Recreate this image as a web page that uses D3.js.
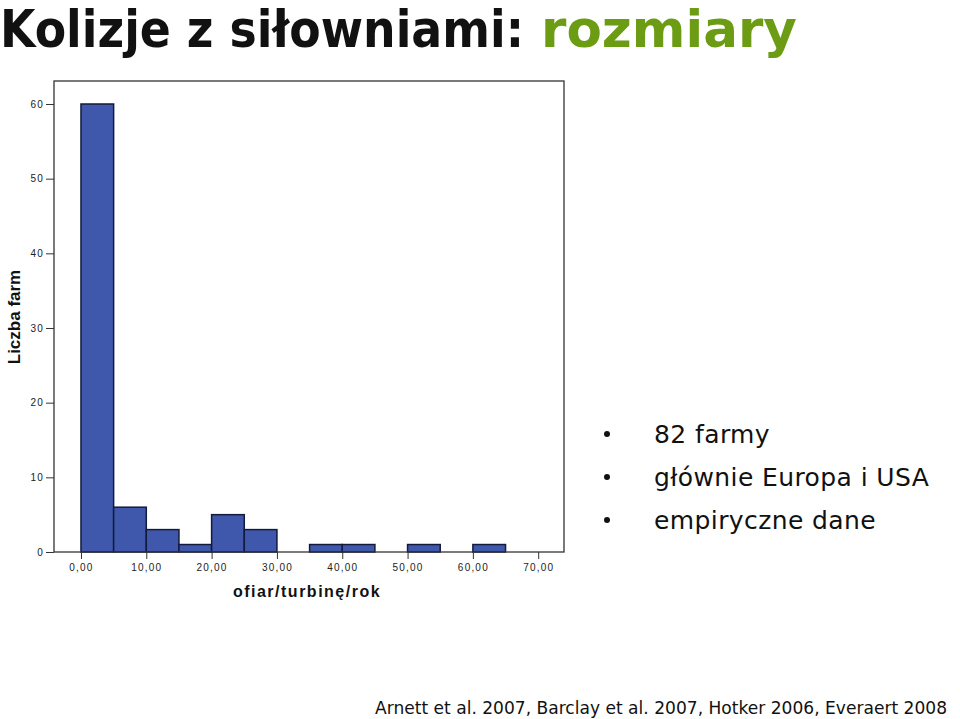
<!DOCTYPE html>
<html>
<head>
<meta charset="utf-8">
<script src="https://cdn.jsdelivr.net/npm/d3@7"></script>
<style>
  body { margin: 0; background: #fff; }
  svg { display: block; }
  .tick text { font-family: Arial, "Liberation Sans", sans-serif; font-size: 10px; letter-spacing: 1.2px; fill: #222; }
  .tick line { stroke: #333; }
</style>
</head>
<body>
<div id="chart"></div>
<script>
// histogram bins (ofiar/turbinę/rok), width 5
var binStarts = [0, 5, 10, 15, 20, 25, 30, 35, 40, 45, 50, 55, 60];
var binCounts = [60, 6, 3, 1, 5, 3, 0, 1, 1, 0, 1, 0, 1];
var binWidth = 5;
var xTicks = [0, 10, 20, 30, 40, 50, 60, 70];
var yTicks = [0, 10, 20, 30, 40, 50, 60];
var bullets = ["82 farmy", "głównie Europa i USA", "empiryczne dane"];

var svgWidth = 960;
var svgHeight = 719;

var svg = d3.select("#chart")
  .append("svg")
  .attr("width", svgWidth)
  .attr("height", svgHeight);

// plot frame
var frame = { left: 54, right: 564, top: 81, bottom: 552 };

var xScale = d3.scaleLinear()
  .domain([-4.13, 73.95])
  .range([frame.left, frame.right]);

var yScale = d3.scaleLinear()
  .domain([0, 63.08])
  .range([frame.bottom, frame.top]);

// title, two parts squeezed horizontally to fit
function titlePart(txt, x, w, color) {
  var g = svg.append("g");
  var t = g.append("text")
    .attr("x", 0)
    .attr("y", 0)
    .style("font-family", "'DejaVu Sans', Verdana, sans-serif")
    .style("font-weight", "bold")
    .style("font-size", "52px")
    .attr("fill", color)
    .text(txt);
  var natural = t.node().getComputedTextLength();
  g.attr("transform", `translate(${x}, 47) scale(${w / natural}, 1)`);
}
titlePart("Kolizje z siłowniami:", 0, 524, "#111");
titlePart("rozmiary", 541, 256, "#6b9c14");

// bars
svg.selectAll(".bar")
  .data(binStarts.map((s, i) => ({ start: s, count: binCounts[i] })).filter(d => d.count > 0))
  .enter()
  .append("rect")
  .attr("class", "bar")
  .attr("x", d => xScale(d.start))
  .attr("y", d => yScale(d.count))
  .attr("width", d => xScale(d.start + binWidth) - xScale(d.start))
  .attr("height", d => yScale(0) - yScale(d.count))
  .attr("fill", "#3f58ab")
  .attr("stroke", "#141a3c")
  .attr("stroke-width", 1.5);

// frame
svg.append("rect")
  .attr("x", frame.left)
  .attr("y", frame.top)
  .attr("width", frame.right - frame.left)
  .attr("height", frame.bottom - frame.top)
  .attr("fill", "none")
  .attr("stroke", "#333")
  .attr("stroke-width", 1.3);

// axes
var xAxis = svg.append("g")
  .attr("transform", `translate(0, ${frame.bottom})`)
  .call(d3.axisBottom(xScale).tickValues(xTicks).tickSize(7).tickPadding(5)
    .tickFormat(d => d3.format(".2f")(d).replace(".", ",")));
xAxis.select(".domain").remove();

var yAxis = svg.append("g")
  .attr("transform", `translate(${frame.left}, 0)`)
  .call(d3.axisLeft(yScale).tickValues(yTicks).tickSize(8).tickPadding(2));
yAxis.select(".domain").remove();

// axis labels
svg.append("text")
  .attr("x", 307)
  .attr("y", 597)
  .attr("text-anchor", "middle")
  .style("font-family", "Arial, 'Liberation Sans', sans-serif")
  .style("font-weight", "bold")
  .style("font-size", "16px")
  .style("letter-spacing", "1.5px")
  .attr("fill", "#111")
  .text("ofiar/turbinę/rok");

svg.append("text")
  .attr("transform", "translate(20, 317) rotate(-90)")
  .attr("text-anchor", "middle")
  .style("font-family", "Arial, 'Liberation Sans', sans-serif")
  .style("font-weight", "bold")
  .style("font-size", "17px")
  .attr("fill", "#111")
  .text("Liczba farm");

// bullet list
var list = svg.append("g");
bullets.forEach(function(t, i) {
  list.append("circle")
    .attr("cx", 607)
    .attr("cy", 434 + i * 43)
    .attr("r", 3)
    .attr("fill", "#111");
  list.append("text")
    .attr("x", 654)
    .attr("y", 443 + i * 43)
    .style("font-family", "'DejaVu Sans', Verdana, sans-serif")
    .style("font-size", "25px")
    .style("letter-spacing", "0.4px")
    .attr("fill", "#111")
    .text(t);
});

// citation
svg.append("text")
  .attr("x", 375)
  .attr("y", 714)
  .attr("textLength", 572)
  .attr("lengthAdjust", "spacingAndGlyphs")
  .style("font-family", "'DejaVu Sans', Verdana, sans-serif")
  .style("font-size", "17px")
  .attr("fill", "#111")
  .text("Arnett et al. 2007, Barclay et al. 2007, Hotker 2006, Everaert 2008");
</script>
</body>
</html>
